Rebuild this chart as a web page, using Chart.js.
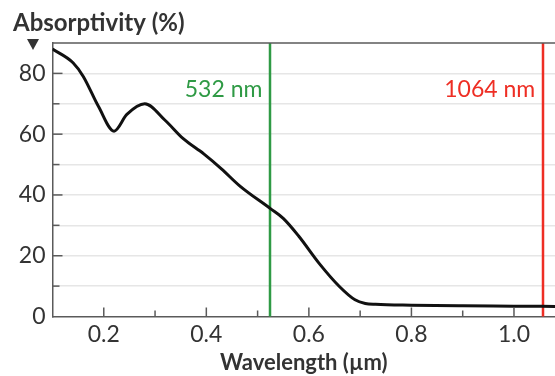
<!DOCTYPE html>
<html>
<head>
<meta charset="utf-8">
<script src="https://cdn.jsdelivr.net/npm/chart.js@4"></script>
<style>
  html, body { margin: 0; padding: 0; background: #fff; }
  #wrap { width: 555px; height: 376px; }
</style>
</head>
<body>
<div id="wrap"><canvas id="chart" width="555" height="376"></canvas></div>
<script>
/* data */
const wavelength = [0.10, 0.14, 0.16, 0.19, 0.22, 0.245, 0.28, 0.32, 0.355, 0.395, 0.43, 0.465,
                    0.525, 0.55, 0.58, 0.62, 0.66, 0.69, 0.71, 0.73, 0.80, 0.90, 1.00, 1.08];
const absorptivity = [88, 83.5, 79, 69, 61, 66.5, 70, 64.5, 58.5, 53.5, 48.5, 43,
                      35.5, 32.3, 26.5, 17.5, 9.8, 5.5, 4.3, 4.0, 3.7, 3.5, 3.4, 3.3];
const laserPos = [0.525, 1.057];
const laserLabels = ['532 nm', '1064 nm'];
const laserColours = ['#2f9a45', '#ee2e24'];
const xTickValues = [0.1, 0.2, 0.3, 0.4, 0.5, 0.6, 0.7, 0.8, 0.9, 1.0];
const yTickValues = [0, 10, 20, 30, 40, 50, 60, 70, 80, 90];

const FONT = 'Lato';
const TEXT = '#333';
const AXIS = '#5a5a5a';

/*******************
 * extra drawing: frame, inward ticks, laser lines, titles
 ******************/
const decorations = {
    id: 'decorations',
    beforeDatasetsDraw(chart) {
        const ctx = chart.ctx;
        const area = chart.chartArea;
        const xs = chart.scales.x;
        ctx.save();

        // laser lines
        for (let i = 0; i < laserPos.length; i++) {
            const px = Math.round(xs.getPixelForValue(laserPos[i]));
            ctx.beginPath();
            ctx.moveTo(px, area.top);
            ctx.lineTo(px, area.bottom);
            ctx.strokeStyle = laserColours[i];
            ctx.lineWidth = 2.5;
            ctx.stroke();
        }
        ctx.restore();
    },
    afterDraw(chart) {
        const ctx = chart.ctx;
        const area = chart.chartArea;
        const xs = chart.scales.x;
        const ys = chart.scales.y;
        ctx.save();

        // top frame line
        ctx.strokeStyle = AXIS;
        ctx.lineWidth = 1.5;
        ctx.beginPath();
        ctx.moveTo(area.left, area.top);
        ctx.lineTo(area.right, area.top);
        ctx.stroke();

        // inward tick marks
        for (const v of xTickValues) {
            if (v <= xs.min) continue;
            const px = xs.getPixelForValue(v);
            const major = Math.abs((v * 10) % 2) < 0.01;
            ctx.beginPath();
            ctx.moveTo(px, area.bottom);
            ctx.lineTo(px, area.bottom - (major ? 9 : 6));
            ctx.stroke();
        }
        for (const v of yTickValues) {
            if (v <= ys.min || v >= ys.max) continue;
            const py = ys.getPixelForValue(v);
            ctx.beginPath();
            ctx.moveTo(area.left, py);
            ctx.lineTo(area.left + (v % 20 === 0 ? 10 : 7), py);
            ctx.stroke();
        }

        // laser labels
        ctx.font = '23px ' + FONT;
        ctx.textAlign = 'right';
        ctx.textBaseline = 'middle';
        for (let i = 0; i < laserPos.length; i++) {
            const px = xs.getPixelForValue(laserPos[i]);
            ctx.fillStyle = laserColours[i];
            ctx.fillText(laserLabels[i], px - 8, 90);
        }

        // y title + arrow
        ctx.fillStyle = TEXT;
        ctx.textAlign = 'left';
        ctx.font = 'bold 24px ' + FONT;
        ctx.fillText('Absorptivity (%)', 13, 23);
        ctx.beginPath();
        ctx.moveTo(27, 39);
        ctx.lineTo(39, 39);
        ctx.lineTo(33, 50);
        ctx.closePath();
        ctx.fill();

        ctx.restore();
    }
};

const ctx = document.getElementById('chart');
new Chart(ctx, {
    type: 'line',
    data: {
        datasets: [{
            data: wavelength.map((w, i) => ({ x: w, y: absorptivity[i] })),
            borderColor: '#111',
            borderWidth: 3,
            pointRadius: 0,
            cubicInterpolationMode: 'monotone',
            fill: false,
        }]
    },
    options: {
        responsive: false,
        animation: false,
        layout: { padding: { top: 43, right: 0, left: 0, bottom: 0 } },
        plugins: {
            legend: { display: false },
            tooltip: { enabled: false },
        },
        scales: {
            x: {
                type: 'linear',
                min: 0.1,
                max: 1.08,
                afterBuildTicks: (scale) => { scale.ticks = xTickValues.map(v => ({ value: v })); },
                afterFit: (scale) => { scale.height = 376 - 316.5; },
                grid: { display: false, drawTicks: false },
                border: { color: AXIS, width: 1.5 },
                ticks: {
                    padding: 4,
                    color: TEXT,
                    font: { family: FONT, size: 23 },
                    maxRotation: 0,
                    autoSkip: false,
                    callback: (v) => (Math.abs((v * 10) % 2) < 0.01 && v > 0.15) ? v.toFixed(1) : '',
                },
                title: {
                    display: true,
                    text: 'Wavelength (\u00b5m)',
                    color: TEXT,
                    font: { family: FONT, size: 22, weight: 'bold' },
                    padding: { top: 0, bottom: 0 },
                },
            },
            y: {
                min: 0,
                max: 90,
                afterBuildTicks: (scale) => { scale.ticks = yTickValues.map(v => ({ value: v })); },
                afterFit: (scale) => { scale.width = 52.5; },
                grid: {
                    color: (c) => (c.tick && (c.tick.value === 0 || c.tick.value === 90)) ? 'rgba(0,0,0,0)' : '#e6e6e6',
                    lineWidth: 1.5,
                    drawTicks: false,
                },
                border: { color: AXIS, width: 1.5 },
                ticks: {
                    padding: 7,
                    color: TEXT,
                    font: { family: FONT, size: 23 },
                    autoSkip: false,
                    callback: (v) => (v % 20 === 0) ? String(v) : '',
                },
            },
        },
    },
    plugins: [decorations],
});
</script>
</body>
</html>
